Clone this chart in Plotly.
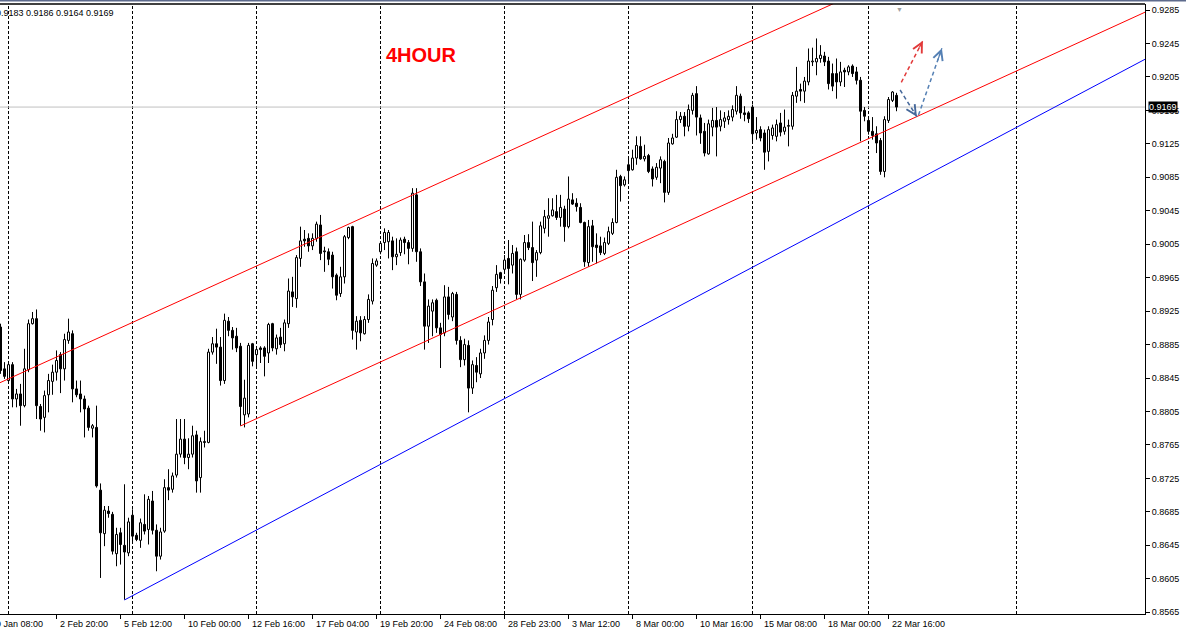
import plotly.graph_objects as go

# ---------------- data (USDCHF H4) ----------------
opens = [
    .8906, .8856, .8842, .8861, .8820, .8826, .8812, .8855, .8910, .8916,
    .8811, .8798, .8825, .8841, .8852, .8873, .8856, .8890, .8898, .8832,
    .8826, .8820, .8809, .8785, .8786, .8711, .8659, .8686, .8682, .8635,
    .8660, .8645, .8636, .8681, .8657, .8651, .8670, .8664, .8698, .8663,
    .8632, .8662, .8714, .8712, .8729, .8754, .8772, .8750, .8754, .8777,
    .8726, .8769, .8768, .8876, .8886, .8882, .8842, .8913, .8902, .8895,
    .8883, .8801, .8802, .8886, .8873, .8881, .8881, .8875, .8910, .8880,
    .8894, .8886, .8910, .8948, .8940, .8988, .9011, .9012, .9003, .9012,
    .9028, .8997, .8996, .8992, .8968, .8946, .8966, .9013, .9026, .8900,
    .8914, .8898, .8915, .8937, .8980, .8996, .9007, .9008, .9009, .8990,
    .8995, .9011, .9007, .9000, .9064, .8996, .8960, .8907, .8925, .8938,
    .8905, .8899, .8942, .8918, .8945, .8890, .8867, .8884, .8833, .8860,
    .8850, .8875, .8890, .8915, .8953, .8971, .8975, .8988, .8980, .8996,
    .8945, .8986, .9007, .9001, .8986, .8995, .9024, .9036, .9039, .9044,
    .9037, .9047, .9026, .9058, .9054, .9049, .9031, .8983, .9027, .9004,
    .9003, .8994, .9006, .9018, .9031, .9086, .9076, .9100, .9094, .9108,
    .9122, .9107, .9111, .9095, .9085, .9096, .9104, .9067, .9125, .9133,
    .9154, .9158, .9146, .9165, .9185, .9156, .9140, .9113, .9145, .9153,
    .9146, .9152, .9154, .9157, .9164, .9182, .9162, .9162, .9169, .9138,
    .9142, .9138, .9116, .9135, .9134, .9150, .9140, .9146, .9146, .9182,
    .9190, .9188, .9199, .9223, .9223, .9227, .9230, .9224, .9209, .9209,
    .9199, .9213, .9211, .9218, .9211, .9201, .9165, .9153, .9140, .9137,
    .9129, .9092, .9153, .9177, .9183,
]
highs = [
    .8910, .8864, .8864, .8864, .8832, .8838, .8880, .8915, .8924, .8927,
    .8814, .8830, .8850, .8861, .8878, .8876, .8898, .8916, .8902, .8842,
    .8842, .8824, .8812, .8790, .8812, .8719, .8692, .8692, .8685, .8666,
    .8666, .8718, .8678, .8688, .8660, .8677, .8706, .8704, .8710, .8670,
    .8666, .8724, .8736, .8732, .8796, .8796, .8796, .8773, .8788, .8782,
    .8774, .8782, .8880, .8894, .8904, .8894, .8922, .8918, .8906, .8905,
    .8887, .8843, .8887, .8887, .8883, .8883, .8883, .8911, .8911, .8897,
    .8905, .8915, .8964, .8966, .8992, .9026, .9022, .9018, .9018, .9032,
    .9040, .9002, .9000, .8996, .8970, .8978, .9016, .9026, .9027, .8919,
    .8919, .8919, .8945, .8988, .8988, .9008, .9024, .9022, .9014, .9012,
    .9013, .9014, .9010, .9072, .9072, .9000, .8970, .8939, .8939, .8940,
    .8911, .8956, .8954, .8948, .8948, .8895, .8892, .8890, .8866, .8870,
    .8880, .8896, .8918, .8955, .8980, .8972, .8992, .9010, .9004, .9001,
    .8988, .9016, .9017, .9032, .8998, .9032, .9046, .9060, .9060, .9064,
    .9064, .9051, .9086, .9066, .9060, .9054, .9032, .9034, .9034, .9018,
    .9014, .9013, .9026, .9036, .9094, .9088, .9086, .9110, .9118, .9134,
    .9134, .9124, .9113, .9098, .9102, .9110, .9106, .9132, .9137, .9164,
    .9163, .9163, .9172, .9186, .9194, .9160, .9150, .9154, .9168, .9169,
    .9165, .9163, .9165, .9171, .9194, .9185, .9170, .9164, .9172, .9157,
    .9146, .9142, .9146, .9148, .9154, .9162, .9166, .9154, .9187, .9217,
    .9197, .9205, .9239, .9240, .9251, .9243, .9235, .9229, .9221, .9227,
    .9223, .9216, .9219, .9220, .9217, .9205, .9169, .9156, .9157, .9146,
    .9132, .9158, .9181, .9188, .9186,
]
lows = [
    .8850, .8844, .8838, .8810, .8810, .8788, .8810, .8852, .8909, .8796,
    .8782, .8780, .8804, .8825, .8842, .8827, .8842, .8886, .8816, .8822,
    .8804, .8774, .8782, .8774, .8714, .8606, .8644, .8678, .8634, .8620,
    .8622, .8580, .8632, .8650, .8650, .8642, .8658, .8646, .8658, .8614,
    .8628, .8660, .8699, .8708, .8726, .8750, .8742, .8736, .8750, .8708,
    .8708, .8762, .8767, .8873, .8862, .8836, .8838, .8895, .8879, .8876,
    .8788, .8786, .8798, .8859, .8859, .8863, .8847, .8863, .8877, .8873,
    .8881, .8877, .8905, .8930, .8929, .8978, .9002, .8996, .8998, .9008,
    .8986, .8972, .8980, .8952, .8938, .8942, .8958, .9011, .8891, .8879,
    .8889, .8897, .8911, .8933, .8978, .8993, .8998, .8988, .8974, .8980,
    .8991, .8993, .8981, .8996, .8984, .8955, .8879, .8887, .8895, .8899,
    .8857, .8895, .8915, .8913, .8885, .8858, .8860, .8804, .8826, .8840,
    .8845, .8868, .8885, .8908, .8948, .8958, .8972, .8957, .8970, .8939,
    .8939, .8984, .8998, .8961, .8966, .8993, .9018, .9014, .9038, .9034,
    .9026, .9008, .9024, .9052, .9044, .9030, .8978, .8978, .8984, .8982,
    .8992, .8992, .9004, .9016, .9030, .9056, .9074, .9078, .9093, .9100,
    .9106, .9104, .9090, .9074, .9082, .9078, .9055, .9064, .9124, .9132,
    .9150, .9134, .9140, .9160, .9135, .9125, .9110, .9112, .9134, .9110,
    .9140, .9144, .9148, .9152, .9160, .9155, .9152, .9150, .9125, .9130,
    .9128, .9094, .9104, .9130, .9128, .9134, .9136, .9122, .9142, .9174,
    .9176, .9174, .9195, .9218, .9207, .9222, .9218, .9190, .9188, .9179,
    .9194, .9193, .9207, .9205, .9196, .9128, .9152, .9136, .9130, .9114,
    .9088, .9085, .9150, .9175, .9164,
]
closes = [
    .8854, .8847, .8861, .8820, .8826, .8812, .8856, .8910, .8916, .8812,
    .8796, .8824, .8842, .8852, .8866, .8856, .8891, .8900, .8832, .8825,
    .8820, .8808, .8786, .8788, .8716, .8660, .8687, .8683, .8638, .8658,
    .8646, .8637, .8673, .8656, .8652, .8672, .8662, .8700, .8663, .8632,
    .8661, .8714, .8711, .8728, .8754, .8772, .8750, .8754, .8776, .8722,
    .8769, .8768, .8876, .8886, .8882, .8842, .8914, .8902, .8893, .8881,
    .8811, .8821, .8884, .8865, .8879, .8879, .8871, .8909, .8881, .8893,
    .8885, .8911, .8949, .8942, .8989, .9009, .9009, .9003, .9012, .9029,
    .8994, .8996, .8987, .8966, .8944, .8966, .9014, .9025, .8902, .8913,
    .8899, .8915, .8939, .8982, .8985, .9006, .9019, .9019, .8990, .8993,
    .9010, .9007, .9000, .9066, .8996, .8960, .8907, .8931, .8935, .8905,
    .8897, .8942, .8921, .8946, .8890, .8867, .8885, .8833, .8861, .8852,
    .8875, .8890, .8912, .8950, .8969, .8964, .8986, .8976, .8994, .8945,
    .8987, .9007, .9001, .8983, .8995, .9027, .9038, .9039, .9046, .9037,
    .9049, .9026, .9059, .9053, .9050, .9031, .8984, .9026, .9002, .9001,
    .8995, .9007, .9020, .9031, .9085, .9075, .9082, .9093, .9108, .9123,
    .9107, .9110, .9092, .9083, .9097, .9106, .9067, .9126, .9132, .9154,
    .9158, .9146, .9166, .9183, .9157, .9138, .9114, .9149, .9153, .9145,
    .9154, .9156, .9158, .9166, .9183, .9162, .9160, .9155, .9137, .9141,
    .9132, .9115, .9142, .9144, .9148, .9139, .9145, .9147, .9183, .9188,
    .9188, .9200, .9224, .9224, .9227, .9231, .9223, .9197, .9194, .9199,
    .9211, .9211, .9217, .9209, .9201, .9164, .9158, .9140, .9135, .9126,
    .9092, .9154, .9178, .9187, .9169,
]
bar_index = list(range(len(opens)))

# time-axis labels (placed at the bars they name)
time_label_bars = [14, 30, 46, 62, 78, 94, 110, 126, 142, 158, 174, 190, 206, 222]
time_labels = ["2 Feb 20:00", "5 Feb 12:00", "10 Feb 00:00", "12 Feb 16:00",
               "17 Feb 04:00", "19 Feb 20:00", "24 Feb 08:00", "28 Feb 23:00",
               "3 Mar 12:00", "8 Mar 00:00", "10 Mar 16:00", "15 Mar 08:00",
               "18 Mar 00:00", "22 Mar 16:00"]
first_time_label = "29 Jan 08:00"
price_ticks = [0.8565, 0.8605, 0.8645, 0.8685, 0.8725, 0.8765, 0.8805, 0.8845,
               0.8885, 0.8925, 0.8965, 0.9005, 0.9045, 0.9085, 0.9125, 0.9165,
               0.9205, 0.9245, 0.9285]
week_grid_bars = [2, 33, 64, 95, 126, 157, 188, 217, 254]
last_price = 0.9169
ohlc_text = "0.9183 0.9186 0.9164 0.9169"

# drawn objects: anchor points (bar index, price)
red_upper_anchor = ([-0.1, 206.4], [0.88395, 0.92887])
red_lower_anchor = ([60.0, 286.4], [0.87877, 0.92830])
blue_anchor = ([31.0, 286.4], [0.85797, 0.92268])
red_arrow = ([225.2, 230.6], [0.91986, 0.92483])
blue_arrow_down = ([224.9, 229.1], [0.91894, 0.91574])
blue_arrow_up = ([229.5, 235.35], [0.91594, 0.92392])

FONT = "Liberation Sans, Arial, sans-serif"

fig = go.Figure()

# wicks (upper and lower parts separately so they never cross the bodies)
wx, wy = [], []
for i, o, h, l, c in zip(bar_index, opens, highs, lows, closes):
    top, bot = max(o, c), min(o, c)
    wx += [i, i, None, i, i, None]
    wy += [h, top, None, bot, l, None]
fig.add_trace(go.Scatter(x=wx, y=wy, mode="lines", line=dict(color="black", width=1),
                         hoverinfo="skip", showlegend=False))

# bodies
up = [k for k in bar_index if closes[k] >= opens[k]]
dn = [k for k in bar_index if closes[k] < opens[k]]
fig.add_trace(go.Bar(x=up, y=[closes[k] - opens[k] for k in up], base=[opens[k] for k in up],
                     width=0.5, marker=dict(color="white", line=dict(color="black", width=1)),
                     showlegend=False))
fig.add_trace(go.Bar(x=dn, y=[opens[k] - closes[k] for k in dn], base=[closes[k] for k in dn],
                     width=0.5, marker=dict(color="black", line=dict(color="black", width=1)),
                     showlegend=False))


def ray(anchor, x_from, x_to):
    (x0, x1), (y0, y1) = anchor
    s = (y1 - y0) / (x1 - x0)
    return [x_from, x_to], [y0 + s * (x_from - x0), y0 + s * (x_to - x0)]


for anchor, start, col in [(red_upper_anchor, -5, "#ff0000"),
                           (red_lower_anchor, 60.0, "#ff0000"),
                           (blue_anchor, 31.0, "#0000ff")]:
    xs, ys = ray(anchor, start, 300)
    fig.add_trace(go.Scatter(x=xs, y=ys, mode="lines", line=dict(color=col, width=1),
                             hoverinfo="skip", showlegend=False))

# dashed forecast arrows
for (xs, ys), col in [(red_arrow, "#e23a3a"), (blue_arrow_down, "#46689a"),
                      (blue_arrow_up, "#5580b4")]:
    fig.add_trace(go.Scatter(x=xs, y=ys, mode="lines",
                             line=dict(color=col, width=1.5, dash="4px,3px"),
                             hoverinfo="skip", showlegend=False))
    fig.add_annotation(x=xs[1], y=ys[1], ax=xs[0] + (xs[1] - xs[0]) * 0.8,
                       ay=ys[0] + (ys[1] - ys[0]) * 0.8, axref="x", ayref="y",
                       xref="x", yref="y", text="", showarrow=True, arrowhead=5,
                       arrowsize=1.6, arrowwidth=1.2, arrowcolor=col)

# grid: weekly dashed separators and the bid line
shapes = []
for g in week_grid_bars:
    shapes.append(dict(type="line", xref="x", yref="paper", x0=g, x1=g, y0=0, y1=1,
                       line=dict(color="black", width=1, dash="3px,2px"), layer="below"))
shapes.append(dict(type="line", xref="paper", yref="y", x0=0, x1=1, y0=last_price,
                   y1=last_price, line=dict(color="#c0c0c0", width=1), layer="below"))
shapes.append(dict(type="line", xref="paper", yref="paper", x0=0, x1=1, y0=1, y1=1,
                   line=dict(color="black", width=1.5)))
shapes.append(dict(type="line", xref="paper", yref="paper", x0=-0.01, x1=1.05,
                   y0=1.0057, y1=1.0057, line=dict(color="#5d6a8c", width=2)))
fig.update_layout(shapes=shapes)

# time labels
for b, t in zip(time_label_bars, time_labels):
    fig.add_annotation(x=b, y=0, xref="x", yref="paper", text=t, showarrow=False,
                       xanchor="left", yanchor="top", xshift=1, yshift=-3,
                       font=dict(family=FONT, size=9, color="black"))
fig.add_annotation(x=0, y=0, xref="paper", yref="paper", text=first_time_label,
                   showarrow=False, xanchor="left", yanchor="top", xshift=-11, yshift=-3,
                   font=dict(family=FONT, size=9, color="black"))

# price box
fig.add_annotation(x=1, y=last_price, xref="paper", yref="y", text=f"{last_price:.4f}",
                   showarrow=False, xanchor="left", yanchor="middle", xshift=3,
                   bgcolor="black", borderpad=0,
                   font=dict(family=FONT, size=9, color="white"))

# texts
fig.add_annotation(x=0, y=0.9857, xref="paper", yref="paper", text=ohlc_text,
                   showarrow=False, xanchor="left", yanchor="middle", xshift=-6,
                   font=dict(family=FONT, size=9, color="black"))
fig.add_annotation(x=0.3677, y=0.9164, xref="paper", yref="paper", text="<b>4HOUR</b>",
                   showarrow=False, xanchor="center", yanchor="middle",
                   font=dict(family=FONT, size=20, color="#ff0000"))
fig.add_annotation(x=0.786, y=1.0, xref="paper", yref="paper", text="▼",
                   showarrow=False, xanchor="center", yanchor="top",
                   font=dict(family=FONT, size=7, color="#a0a0a0"))

fig.update_layout(
    width=1186, height=631,
    margin=dict(l=0, r=41, t=4, b=17, pad=0),
    paper_bgcolor="white", plot_bgcolor="white",
    barmode="overlay", showlegend=False, hovermode=False,
    xaxis=dict(range=[-0.125, 286.125], showgrid=False, zeroline=False,
               showline=True, linecolor="black", linewidth=1,
               tickmode="array", tickvals=time_label_bars, ticks="outside",
               ticklen=4, tickcolor="black", showticklabels=False, fixedrange=True),
    yaxis=dict(range=[0.85629, 0.92922], side="right", showgrid=False, zeroline=False,
               showline=True, linecolor="black", linewidth=1,
               tickmode="array", tickvals=price_ticks,
               ticktext=[f"{v:.4f}" for v in price_ticks],
               ticks="outside", ticklen=4, tickcolor="black", automargin=False,
               tickfont=dict(family=FONT, size=9, color="black"), fixedrange=True),
)

fig.write_html("out.html", config={"displayModeBar": False},
               post_script="document.body.style.margin='0';document.body.style.overflow='hidden';")
